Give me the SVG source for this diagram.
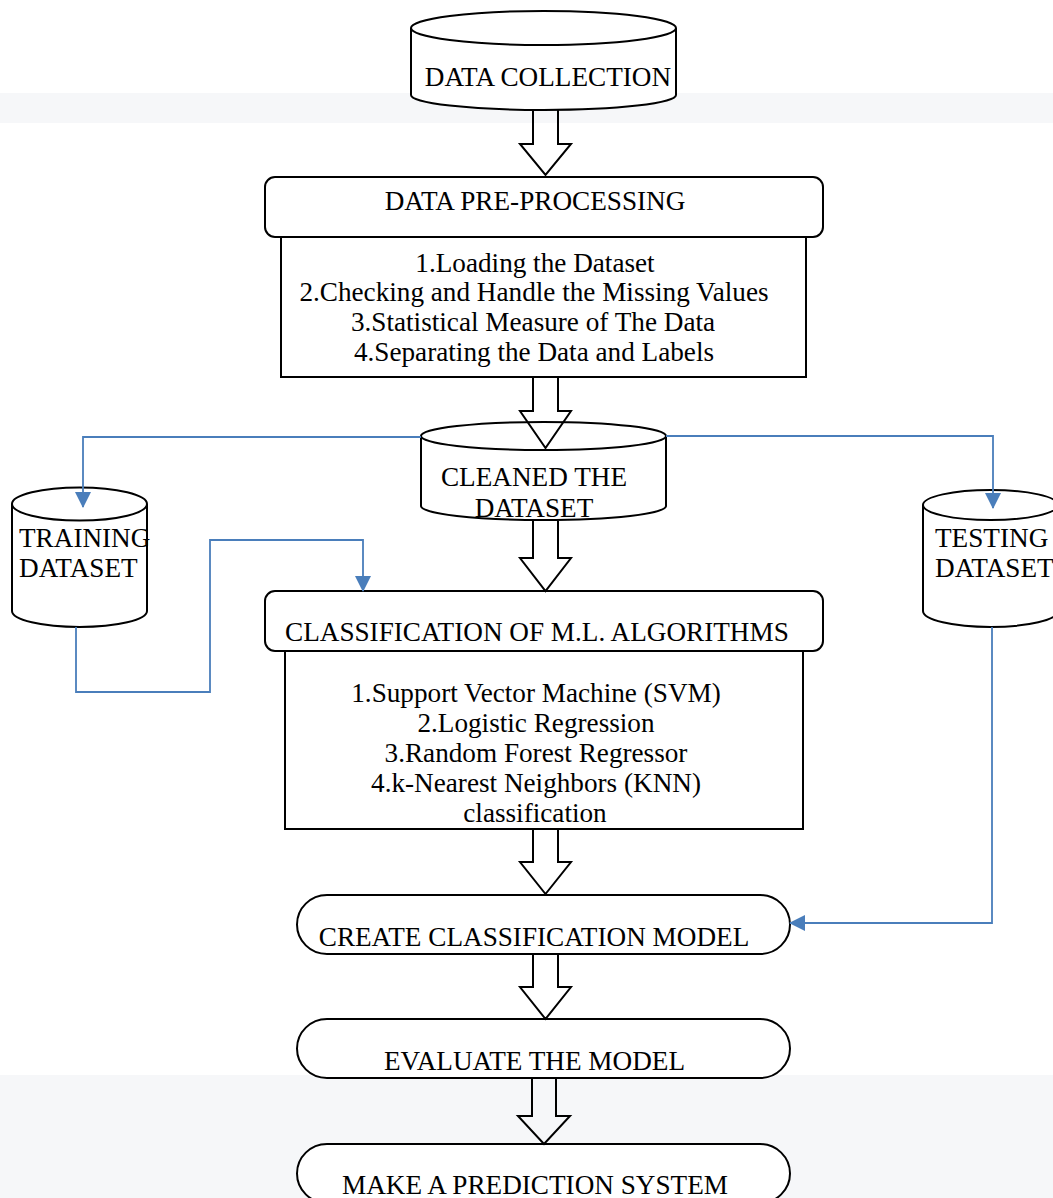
<svg xmlns="http://www.w3.org/2000/svg" width="1053" height="1198" viewBox="0 0 1053 1198">
<defs>
<style>
.n{fill:#fff;stroke:#000;stroke-width:2}
.t{font-family:"Liberation Serif","Times New Roman",serif;font-size:27.2px;fill:#000}
.c{text-anchor:middle}
.blk{fill:none;stroke:#000;stroke-width:2;stroke-linejoin:miter}
.blue{fill:none;stroke:#4a7ebb;stroke-width:1.8}
.band{fill:#f6f7f9}
</style>
<marker id="ah" markerUnits="userSpaceOnUse" markerWidth="16" markerHeight="16" viewBox="0 0 16 16" refX="15" refY="8" orient="auto">
<path d="M0,0 L16,8 L0,16 Z" fill="#4a7ebb"/>
</marker>
</defs>
<rect class="band" x="0" y="93" width="1053" height="30"/>
<rect class="band" x="0" y="1075" width="1053" height="123"/>

<g id="data-collection">
<path class="n" d="M411,28 V95 A132.5,15 0 0 0 676,95 V28"/>
<ellipse class="n" cx="543.5" cy="28" rx="132.5" ry="17"/>
<text class="t c" x="548" y="86">DATA COLLECTION</text>
</g>

<g id="data-preprocessing">
<rect class="n" x="265" y="177" width="558" height="60" rx="10"/>
<text class="t c" x="535" y="210">DATA PRE-PROCESSING</text>
</g>

<g id="preprocessing-steps">
<rect class="n" x="281" y="237" width="525" height="140"/>
<text class="t c" x="535" y="272">1.Loading the Dataset</text>
<text class="t c" x="534" y="301">2.Checking and Handle the Missing Values</text>
<text class="t c" x="533" y="331">3.Statistical Measure of The Data</text>
<text class="t c" x="534" y="361">4.Separating the Data and Labels</text>
</g>

<g id="cleaned-dataset">
<path class="n" d="M421,436 V506 A122.5,14 0 0 0 666,506 V436"/>
<ellipse class="n" cx="543.5" cy="436" rx="122.5" ry="14"/>
<text class="t c" x="534" y="486">CLEANED THE</text>
<text class="t c" x="534" y="517">DATASET</text>
</g>

<g id="training-dataset">
<path class="n" d="M12,504 V611 A67.5,16 0 0 0 147,611 V504"/>
<ellipse class="n" cx="79.5" cy="504" rx="67.5" ry="16.5"/>
<text class="t" x="19" y="547">TRAINING</text>
<text class="t" x="19" y="577">DATASET</text>
</g>

<g id="testing-dataset">
<path class="n" d="M923,505 V611 A67.5,16 0 0 0 1058,611 V505"/>
<ellipse class="n" cx="990.5" cy="505" rx="67.5" ry="15"/>
<text class="t" x="935" y="547">TESTING</text>
<text class="t" x="935" y="577">DATASET</text>
</g>

<g id="classification">
<rect class="n" x="265" y="591" width="558" height="60" rx="10"/>
<text class="t" x="285" y="641">CLASSIFICATION OF M.L. ALGORITHMS</text>
</g>

<g id="algorithms">
<rect class="n" x="285" y="651" width="518" height="178"/>
<text class="t c" x="536" y="702">1.Support Vector Machine (SVM)</text>
<text class="t c" x="536" y="732">2.Logistic Regression</text>
<text class="t c" x="536" y="762">3.Random Forest Regressor</text>
<text class="t c" x="536" y="792">4.k-Nearest Neighbors (KNN)</text>
<text class="t c" x="535" y="822">classification</text>
</g>

<g id="create-model">
<rect class="n" x="297" y="895" width="493" height="59" rx="30" ry="29.5"/>
<text class="t c" x="534" y="946">CREATE CLASSIFICATION MODEL</text>
</g>

<g id="evaluate-model">
<rect class="n" x="297" y="1019" width="493" height="59" rx="30" ry="29.5"/>
<text class="t c" x="534.5" y="1070">EVALUATE THE MODEL</text>
</g>

<g id="prediction-system">
<rect class="n" x="297" y="1144" width="493" height="59" rx="30" ry="29.5"/>
<text class="t c" x="535" y="1194">MAKE A PREDICTION SYSTEM</text>
</g>

<g id="connectors">
<path class="blk" d="M533,110 V144 H520 L545.5,175 L571,144 H558 V110"/>
<path class="blk" d="M533,377 V411 H520 L545.5,448 L571,411 H558 V377"/>
<path class="blk" d="M533,521 V558 H520 L545.5,591 L571,558 H558 V521"/>
<path class="blk" d="M533,829 V862 H520 L545.5,894 L571,862 H558 V829"/>
<path class="blk" d="M533,954 V987 H520 L545.5,1019 L571,987 H558 V954"/>
<path class="blk" d="M532,1078 V1116 H518 L544,1144 L570,1116 H556 V1078"/>
<path class="blue" d="M421,437 H83 V507" marker-end="url(#ah)"/>
<path class="blue" d="M666,436 H993 V508" marker-end="url(#ah)"/>
<path class="blue" d="M992,627 V923 H790" marker-end="url(#ah)"/>
<path class="blue" d="M76,627 V692 H210 V540 H363 V591" marker-end="url(#ah)"/>
</g>
</svg>
